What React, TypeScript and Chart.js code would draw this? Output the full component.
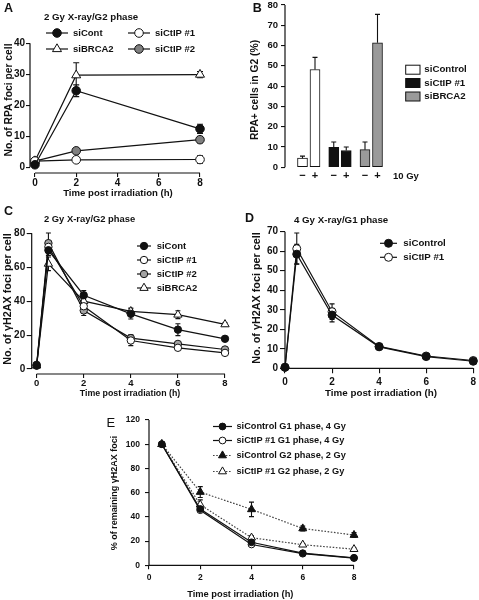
import React, { useEffect, useRef } from 'react';
import { Chart, registerables } from 'chart.js';
Chart.register(...registerables);

const FONT = '"Liberation Sans", Arial, Helvetica, sans-serif';
const INK = '#111111';
const GRAY_A = '#808080';
const GRAY_C = '#a3a3a3';
const GRAY_B = '#9a9a9a';

// ---------------- Panel A: RPA foci, 2 Gy G2 ----------------
const A_TIME = [0, 2, 8];
const A_SICONT = [0.8, 24.7, 12.4];
const A_SICONT_ERR = [0.5, 1.9, 1.5];
const A_SICTIP1 = [2.0, 2.4, 2.5];
const A_SICTIP1_ERR = [0.4, 0.6, 1.2];
const A_SIBRCA2 = [2.0, 29.7, 29.9];
const A_SIBRCA2_ERR = [0.5, 4.0, 1.0];
const A_SICTIP2 = [2.0, 5.3, 8.9];
const A_SICTIP2_ERR = [0.4, 0.7, 1.0];
const A_X_TICKS = [0, 2, 4, 6, 8];
const A_Y_TICKS = [0, 10, 20, 30, 40];

// ---------------- Panel B: RPA+ cells in G2 ----------------
const B_GROUPS = ['siControl', 'siCtIP #1', 'siBRCA2'];
const B_DOSES = ['−', '+'];
const B_SICONTROL = [4.5, 48.2];
const B_SICONTROL_ERR = [1.0, 6.0];
const B_SICTIP1 = [9.9, 8.3];
const B_SICTIP1_ERR = [2.6, 1.7];
const B_SIBRCA2 = [8.7, 61.4];
const B_SIBRCA2_ERR = [3.8, 14.0];
const B_Y_TICKS = [0, 10, 20, 30, 40, 50, 60, 70, 80];

// ---------------- Panel C: gH2AX foci, 2 Gy G2 ----------------
const C_TIME = [0, 0.5, 2, 4, 6, 8];
const C_SICONT = [2.0, 70.0, 43.5, 32.5, 23.2, 17.8];
const C_SICONT_ERR = [0.5, 3.0, 2.8, 3.0, 3.5, 1.0];
const C_SICTIP1 = [2.0, 72.0, 37.0, 16.8, 12.5, 9.5];
const C_SICTIP1_ERR = [0.5, 3.0, 2.0, 3.0, 1.0, 1.0];
const C_SICTIP2 = [2.5, 74.2, 34.5, 18.2, 14.8, 11.5];
const C_SICTIP2_ERR = [0.5, 6.0, 3.0, 2.0, 1.0, 1.0];
const C_SIBRCA2 = [2.0, 62.0, 40.0, 34.0, 32.0, 26.3];
const C_SIBRCA2_ERR = [0.5, 4.0, 2.0, 2.0, 2.3, 1.0];
const C_X_TICKS = [0, 2, 4, 6, 8];
const C_Y_TICKS = [0, 20, 40, 60, 80];

// ---------------- Panel D: gH2AX foci, 4 Gy G1 ----------------
const D_TIME = [0, 0.5, 2, 4, 6, 8];
const D_SICONTROL = [0.5, 58.5, 27.3, 11.0, 6.0, 3.6];
const D_SICONTROL_ERR = [0.3, 5.0, 3.5, 0.8, 0.5, 0.5];
const D_SICTIP1 = [0.5, 61.3, 29.0, 11.2, 6.3, 4.0];
const D_SICTIP1_ERR = [0.3, 8.0, 4.0, 0.8, 0.6, 0.5];
const D_X_TICKS = [0, 2, 4, 6, 8];
const D_Y_TICKS = [0, 10, 20, 30, 40, 50, 60, 70];

// ---------------- Panel E: % remaining gH2AX foci ----------------
const E_TIME = [0.5, 2, 4, 6, 8];
const E_SICONTROL_G1 = [100, 46.5, 19.0, 10.0, 6.2];
const E_SICONTROL_G1_ERR = [1.0, 1.0, 1.0, 0.8, 0.6];
const E_SICTIP1_G1 = [100, 45.5, 17.2, 9.6, 6.0];
const E_SICTIP1_G1_ERR = [1.0, 1.0, 1.0, 0.8, 0.6];
const E_SICONTROL_G2 = [100, 60.5, 46.2, 30.4, 25.0];
const E_SICONTROL_G2_ERR = [1.0, 4.5, 6.0, 2.0, 2.0];
const E_SICTIP1_G2 = [100, 50.0, 22.8, 17.0, 13.3];
const E_SICTIP1_G2_ERR = [1.0, 4.0, 1.5, 1.0, 1.0];
const E_X_TICKS = [0, 2, 4, 6, 8];
const E_Y_TICKS = [0, 20, 40, 60, 80, 100, 120];

// ---------------------------------------------------------------
function lineDs(label: string, xs: number[], ys: number[], errs: number[], st: any) {
  return {
    label,
    data: xs.map((x, i) => ({ x, y: ys[i] })),
    errorBars: errs,
    borderColor: st.line ?? INK,
    borderWidth: st.lw ?? 1.2,
    borderDash: st.dash ?? [],
    pointStyle: st.shape,
    pointRadius: st.r,
    pointBackgroundColor: st.fill,
    pointBorderColor: st.stroke ?? INK,
    pointBorderWidth: 1,
    tension: 0,
    fill: false,
    clip: false,
  };
}

// bar slot position on the linear x axis (group spacing 2.5, dose offset 0.5)
const bSlot = (g: number, d: number) => 1.9 + g * 2.5 + (d === 1 ? 0.5 : -0.5);

function barDs(label: string, g: number, vals: number[], errs: number[], fill: string) {
  return {
    label,
    data: vals.map((v, d) => ({ x: bSlot(g, d), y: v })),
    errorBars: errs,
    backgroundColor: fill,
    borderColor: INK,
    borderWidth: 1,
    borderSkipped: false,
    barThickness: 10,
    grouped: false,
  };
}

function drawMarker(ctx: any, style: string, x: number, y: number, r: number, fill: string, stroke: string, lw: number) {
  ctx.beginPath();
  if (style === 'triangle') {
    let rad = 0;
    const step = (2 * Math.PI) / 3;
    ctx.moveTo(x + Math.sin(rad) * r, y - Math.cos(rad) * r);
    rad += step;
    ctx.lineTo(x + Math.sin(rad) * r, y - Math.cos(rad) * r);
    rad += step;
    ctx.lineTo(x + Math.sin(rad) * r, y - Math.cos(rad) * r);
    ctx.closePath();
  } else {
    ctx.arc(x, y, r, 0, Math.PI * 2);
  }
  ctx.fillStyle = fill;
  ctx.fill();
  ctx.lineWidth = lw;
  ctx.strokeStyle = stroke;
  ctx.stroke();
}

function drawErrors(chart: any, s: any) {
  const ctx = chart.ctx;
  const ys = chart.scales.y;
  chart.data.datasets.forEach((ds: any, i: number) => {
    const errs = ds.errorBars;
    if (!errs) return;
    const meta = chart.getDatasetMeta(i);
    ctx.save();
    ctx.strokeStyle = INK;
    ctx.lineWidth = 1.1;
    meta.data.forEach((el: any, j: number) => {
      const e = errs[j];
      if (!e) return;
      const raw = ds.data[j];
      const v = typeof raw === 'number' ? raw : raw.y;
      const x = el.x;
      const yTop = ys.getPixelForValue(v + e);
      const yBot = ys.getPixelForValue(s.errUpOnly ? v : v - e);
      const c = s.errCap / 2;
      ctx.beginPath();
      ctx.moveTo(x, yTop);
      ctx.lineTo(x, yBot);
      ctx.moveTo(x - c, yTop);
      ctx.lineTo(x + c, yTop);
      if (!s.errUpOnly) {
        ctx.moveTo(x - c, yBot);
        ctx.lineTo(x + c, yBot);
      }
      ctx.stroke();
    });
    ctx.restore();
  });
}

function decoPlugin(s: any) {
  return {
    id: 'deco_' + s.id,
    beforeDatasetsDraw(chart: any) {
      const ctx = chart.ctx;
      const xs = chart.scales.x;
      const ys = chart.scales.y;
      const ca = chart.chartArea;
      ctx.save();
      ctx.strokeStyle = INK;
      ctx.lineWidth = 1.2;
      ctx.beginPath();
      if (s.axisY) {
        ctx.moveTo(ca.left, ys.getPixelForValue(s.axisY[1]));
        ctx.lineTo(ca.left, ys.getPixelForValue(s.axisY[0]));
      }
      if (s.axisX) {
        ctx.moveTo(xs.getPixelForValue(s.axisX[0]), ca.bottom);
        ctx.lineTo(xs.getPixelForValue(s.axisX[1]), ca.bottom);
      }
      ctx.stroke();
      ctx.restore();
      if (!s.errAfter) drawErrors(chart, s);
    },
    afterDatasetsDraw(chart: any) {
      if (s.errAfter) drawErrors(chart, s);
    },
    afterDraw(chart: any) {
      const ctx = chart.ctx;
      // free texts
      for (const t of s.texts) {
        ctx.save();
        ctx.fillStyle = INK;
        ctx.font = `${t.weight ?? 'bold'} ${t.size}px ${FONT}`;
        ctx.textBaseline = 'middle';
        ctx.textAlign = t.align ?? 'left';
        const x = t.x - s.cx;
        const y = t.y - s.cy;
        if (t.rot) {
          ctx.translate(x, y);
          ctx.rotate(-Math.PI / 2);
          ctx.textAlign = 'center';
          ctx.fillText(t.text, 0, 0);
        } else {
          ctx.fillText(t.text, x, y);
        }
        ctx.restore();
      }
      // legend
      const lg = s.legend;
      if (!lg) return;
      for (const it of lg.items) {
        const ds = chart.data.datasets[it.ds];
        const col = lg.cols[it.col ?? 0];
        const y = it.y - s.cy;
        ctx.save();
        if (lg.kind === 'box') {
          ctx.fillStyle = ds.backgroundColor;
          ctx.strokeStyle = ds.borderColor;
          ctx.lineWidth = 1;
          const bx = col.x0 - s.cx;
          ctx.fillRect(bx, y - lg.bh / 2, col.x1 - col.x0, lg.bh);
          ctx.strokeRect(bx, y - lg.bh / 2, col.x1 - col.x0, lg.bh);
        } else {
          ctx.strokeStyle = ds.borderColor;
          ctx.lineWidth = ds.borderWidth;
          ctx.setLineDash(ds.borderDash || []);
          ctx.beginPath();
          ctx.moveTo(col.x0 - s.cx, y);
          ctx.lineTo(col.x1 - s.cx, y);
          ctx.stroke();
          ctx.setLineDash([]);
          drawMarker(ctx, ds.pointStyle, col.mx - s.cx, y, ds.pointRadius, ds.pointBackgroundColor, ds.pointBorderColor, ds.pointBorderWidth);
        }
        ctx.fillStyle = INK;
        ctx.font = `bold ${lg.size}px ${FONT}`;
        ctx.textBaseline = 'middle';
        ctx.textAlign = 'left';
        ctx.fillText(ds.label, col.tx - s.cx, y);
        ctx.restore();
      }
    },
  };
}

function axisOpts(a: any, which: 'x' | 'y', size: number) {
  return {
    type: 'linear',
    min: a.min,
    max: a.max,
    offset: false,
    border: { display: false },
    grid: {
      display: a.tl > 0,
      offset: false,
      drawOnChartArea: false,
      drawTicks: a.tl > 0,
      tickLength: a.tl,
      color: INK,
      lineWidth: 1.1,
    },
    ticks: {
      autoSkip: false,
      maxRotation: 0,
      minRotation: 0,
      padding: a.pad,
      color: INK,
      font: { family: FONT, size: a.font, weight: 'bold' },
      callback: (v: any, i: number) => (a.labels ? a.labels[i] : String(v)),
    },
    afterBuildTicks: (sc: any) => {
      sc.ticks = a.ticks.map((v: number) => ({ value: v }));
    },
    afterFit: (sc: any) => {
      if (which === 'y') sc.width = size;
      else sc.height = size;
    },
    title: { display: false },
  };
}

function buildConfig(s: any) {
  return {
    type: s.type,
    data: { datasets: s.datasets },
    options: {
      responsive: false,
      animation: false,
      devicePixelRatio: 1,
      events: [],
      layout: { padding: { left: 0, top: s.T - s.cy, right: s.cx + s.w - s.R, bottom: 0 } },
      plugins: { legend: { display: false }, tooltip: { enabled: false }, title: { display: false } },
      scales: {
        x: axisOpts(s.x, 'x', s.cy + s.h - s.B),
        y: axisOpts(s.y, 'y', s.L - s.cx),
      },
    },
    plugins: [decoPlugin(s)],
  };
}

// ---------------- panel specifications ----------------
const SPEC_A = {
  id: 'A', type: 'line', cx: 0, cy: 0, w: 240, h: 200, L: 30, T: 43.3, R: 200, B: 173,
  x: { min: -0.24, max: 8, ticks: A_X_TICKS, tl: 4, pad: 0, font: 10 },
  y: { min: -1.85, max: 40, ticks: A_Y_TICKS, tl: 4, pad: 1, font: 10 },
  axisX: [0, 8], axisY: [0, 40], errCap: 6,
  datasets: [
    lineDs('siCont', A_TIME, A_SICONT, A_SICONT_ERR, { shape: 'circle', r: 4.3, fill: INK }),
    lineDs('siCtIP #1', A_TIME, A_SICTIP1, A_SICTIP1_ERR, { shape: 'circle', r: 4.3, fill: '#ffffff' }),
    lineDs('siBRCA2', A_TIME, A_SIBRCA2, A_SIBRCA2_ERR, { shape: 'triangle', r: 5.2, fill: '#ffffff' }),
    lineDs('siCtIP #2', A_TIME, A_SICTIP2, A_SICTIP2_ERR, { shape: 'circle', r: 4.3, fill: GRAY_A }),
  ],
  texts: [
    { text: 'A', x: 4, y: 8.5, size: 12.5 },
    { text: '2 Gy X-ray/G2 phase', x: 44, y: 17, size: 9.7 },
    { text: 'Time post irradiation (h)', x: 118, y: 193, size: 9.6, align: 'center' },
    { text: 'No. of RPA foci per cell', x: 9, y: 100, size: 10.3, rot: true },
  ],
  legend: {
    size: 9.5,
    cols: [{ x0: 46, x1: 68, mx: 57, tx: 73 }, { x0: 128, x1: 150, mx: 139, tx: 155 }],
    items: [{ ds: 0, y: 33, col: 0 }, { ds: 1, y: 33, col: 1 }, { ds: 2, y: 49, col: 0 }, { ds: 3, y: 49, col: 1 }],
  },
};

const B_TICK_POS = [0, 1, 2].flatMap((g) => [bSlot(g, 0), bSlot(g, 1)]);
const B_TICK_LABELS = [0, 1, 2].flatMap(() => B_DOSES);

const SPEC_B = {
  id: 'B', type: 'bar', cx: 240, cy: -10, w: 239, h: 210, L: 285, T: 5, R: 385, B: 167.3,
  x: { min: 0, max: 8, ticks: B_TICK_POS, labels: B_TICK_LABELS, tl: 0, pad: 2.5, font: 11 },
  y: { min: 0, max: 80, ticks: B_Y_TICKS, tl: 4, pad: 3, font: 9.5 },
  axisX: null, axisY: [0, 80], errCap: 5, errUpOnly: true, errAfter: true,
  datasets: [
    barDs(B_GROUPS[0], 0, B_SICONTROL, B_SICONTROL_ERR, '#ffffff'),
    barDs(B_GROUPS[1], 1, B_SICTIP1, B_SICTIP1_ERR, INK),
    barDs(B_GROUPS[2], 2, B_SIBRCA2, B_SIBRCA2_ERR, GRAY_B),
  ],
  texts: [
    { text: 'B', x: 252.7, y: 9, size: 12.5 },
    { text: 'RPA+ cells in G2 (%)', x: 255, y: 90, size: 10.3, rot: true },
    { text: '10 Gy', x: 393, y: 176, size: 9.5 },
  ],
  legend: {
    kind: 'box', size: 9.7, bh: 9,
    cols: [{ x0: 405.7, x1: 420, tx: 424.3 }],
    items: [{ ds: 0, y: 69.7 }, { ds: 1, y: 83 }, { ds: 2, y: 96.5 }],
  },
};

const SPEC_C = {
  id: 'C', type: 'line', cx: 0, cy: 200, w: 240, h: 200, L: 31.7, T: 233.3, R: 225, B: 374,
  x: { min: -0.21, max: 8, ticks: C_X_TICKS, tl: 4, pad: 0, font: 9.5 },
  y: { min: -2.95, max: 80, ticks: C_Y_TICKS, tl: 5, pad: 1.5, font: 10 },
  axisX: [0, 8], axisY: [0, 80], errCap: 5,
  datasets: [
    lineDs('siCont', C_TIME, C_SICONT, C_SICONT_ERR, { shape: 'circle', r: 3.7, fill: INK }),
    lineDs('siCtIP #1', C_TIME, C_SICTIP1, C_SICTIP1_ERR, { shape: 'circle', r: 3.7, fill: '#ffffff' }),
    lineDs('siCtIP #2', C_TIME, C_SICTIP2, C_SICTIP2_ERR, { shape: 'circle', r: 3.7, fill: GRAY_C }),
    lineDs('siBRCA2', C_TIME, C_SIBRCA2, C_SIBRCA2_ERR, { shape: 'triangle', r: 4.8, fill: '#ffffff' }),
  ],
  texts: [
    { text: 'C', x: 4, y: 212, size: 12.5 },
    { text: '2 Gy X-ray/G2 phase', x: 44, y: 219, size: 9.4 },
    { text: 'Time post irradiation (h)', x: 130, y: 394, size: 8.8, align: 'center' },
    { text: 'No. of γH2AX foci per cell', x: 8.3, y: 299, size: 10.8, rot: true },
  ],
  legend: {
    size: 9.5,
    cols: [{ x0: 137, x1: 151, mx: 144, tx: 156.7 }],
    items: [{ ds: 0, y: 246 }, { ds: 1, y: 260 }, { ds: 2, y: 274 }, { ds: 3, y: 288 }],
  },
};

const SPEC_D = {
  id: 'D', type: 'line', cx: 240, cy: 200, w: 239, h: 200, L: 285, T: 231.7, R: 474, B: 368.3,
  x: { min: 0, max: 8, ticks: D_X_TICKS, tl: 5, pad: 3, font: 10 },
  y: { min: 0, max: 70, ticks: D_Y_TICKS, tl: 5, pad: 2, font: 10 },
  axisX: [0, 8], axisY: [0, 70], errCap: 5,
  datasets: [
    lineDs('siControl', D_TIME, D_SICONTROL, D_SICONTROL_ERR, { shape: 'circle', r: 4, fill: INK }),
    lineDs('siCtIP #1', D_TIME, D_SICTIP1, D_SICTIP1_ERR, { shape: 'circle', r: 4, fill: '#ffffff' }),
  ],
  texts: [
    { text: 'D', x: 245, y: 219, size: 12.5 },
    { text: '4 Gy X-ray/G1 phase', x: 294, y: 220, size: 9.7 },
    { text: 'Time post irradiation (h)', x: 381, y: 393.3, size: 9.8, align: 'center' },
    { text: 'No. of γH2AX foci per cell', x: 256.7, y: 298, size: 10.8, rot: true },
  ],
  legend: {
    size: 9.7,
    cols: [{ x0: 380, x1: 397, mx: 388.5, tx: 403.3 }],
    items: [{ ds: 0, y: 243.3 }, { ds: 1, y: 257.3 }],
  },
};

const SPEC_E = {
  id: 'E', type: 'line', cx: 100, cy: 400, w: 260, h: 200, L: 149, T: 420, R: 354, B: 565.3,
  x: { min: 0, max: 8, ticks: E_X_TICKS, tl: 4, pad: 3, font: 8.5 },
  y: { min: 0, max: 120, ticks: E_Y_TICKS, tl: 4, pad: 5, font: 8.5 },
  axisX: [0, 8], axisY: [0, 120], errCap: 5,
  datasets: [
    lineDs('siControl G1 phase, 4 Gy', E_TIME, E_SICONTROL_G1, E_SICONTROL_G1_ERR, { shape: 'circle', r: 3.4, fill: INK }),
    lineDs('siCtIP #1 G1 phase, 4 Gy', E_TIME, E_SICTIP1_G1, E_SICTIP1_G1_ERR, { shape: 'circle', r: 3.4, fill: '#ffffff' }),
    lineDs('siControl G2 phase, 2 Gy', E_TIME, E_SICONTROL_G2, E_SICONTROL_G2_ERR, { shape: 'triangle', r: 4.6, fill: INK, dash: [1.6, 1.6], line: '#444444' }),
    lineDs('siCtIP #1 G2 phase, 2 Gy', E_TIME, E_SICTIP1_G2, E_SICTIP1_G2_ERR, { shape: 'triangle', r: 4.6, fill: '#ffffff', dash: [1.6, 1.6], line: '#444444' }),
  ],
  texts: [
    { text: 'E', x: 106.5, y: 423, size: 13, weight: 'normal' },
    { text: 'Time post irradiation (h)', x: 240.3, y: 594, size: 9.3, align: 'center' },
    { text: '% of remaining γH2AX foci', x: 115, y: 493, size: 9, rot: true },
  ],
  legend: {
    size: 9.2,
    cols: [{ x0: 213, x1: 232, mx: 222.5, tx: 236.5 }],
    items: [{ ds: 0, y: 426.5 }, { ds: 1, y: 440.5 }, { ds: 2, y: 455.5 }, { ds: 3, y: 471.5 }],
  },
};

const SPECS = [SPEC_A, SPEC_B, SPEC_C, SPEC_D, SPEC_E];

function Panel({ spec }: { spec: any }) {
  const ref = useRef<HTMLCanvasElement>(null);
  useEffect(() => {
    const chart = new Chart(ref.current as any, buildConfig(spec) as any);
    return () => chart.destroy();
  }, [spec]);
  return (
    <canvas
      ref={ref}
      width={spec.w}
      height={spec.h}
      style={{ position: 'absolute', left: spec.cx, top: spec.cy, width: spec.w, height: spec.h }}
    />
  );
}

export default function App() {
  return (
    <div style={{ position: 'absolute', left: 0, top: 0, width: 479, height: 600, background: '#ffffff', overflow: 'hidden' }}>
      {SPECS.map((s) => (
        <Panel key={s.id} spec={s} />
      ))}
    </div>
  );
}
